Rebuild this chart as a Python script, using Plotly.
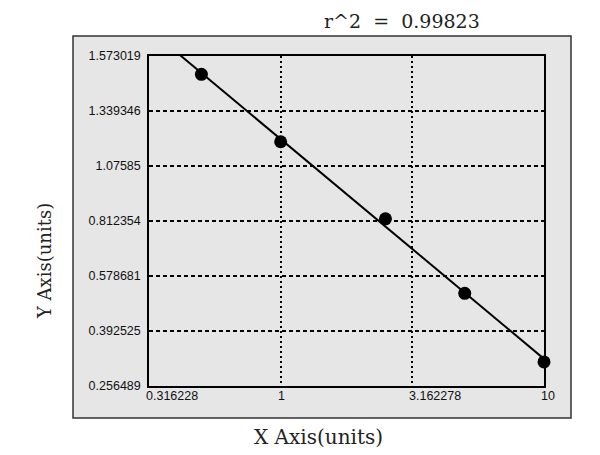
import numpy as np
import plotly.graph_objects as go

# ---- data ----
x_tick_vals = [0.316228, 1, 3.162278, 10]
x_tick_text = ["0.316228", "1", "3.162278", "10"]
y_tick_vals = [0.256489, 0.392525, 0.578681, 0.812354, 1.07585, 1.339346, 1.573019]
y_tick_text = ["0.256489", "0.392525", "0.578681", "0.812354", "1.07585", "1.339346", "1.573019"]

x_data = [0.5, 1, 2.5, 5, 10]
y_data = [1.495, 1.192, 0.823, 0.520, 0.316]

r2_text = "r^2  =  0.99823"
x_title = "X Axis(units)"
y_title = "Y Axis(units)"

# ---- the chart's own (non-linear, evenly spaced tick) y scale ----
idx = np.arange(len(y_tick_vals))
def yscale(v):
    return np.interp(v, y_tick_vals, idx)

u_data = yscale(np.array(y_data))
a, b = np.polyfit(np.log10(x_data), u_data, 1)
x_line = np.array([x_tick_vals[0], x_tick_vals[-1]])
u_line = a * np.log10(x_line) + b

# page body has an 8px margin: work in screen pixels, convert to figure pixels
OFF = 8
W, H = 600 - OFF, 455 - OFF
L, T = 149 - OFF, 56 - OFF
R, B = 600 - 544, 455 - 386
pw, ph = W - L - R, H - T - B
def px(xs):
    return (xs - OFF - L) / pw
def py(ys):
    return (H - B - (ys - OFF)) / ph

grey = "#e6e6e6"
tfont = dict(family="Liberation Sans", size=12.5, color="#111")
fig = go.Figure()
fig.add_trace(go.Scatter(x=x_line, y=u_line, mode="lines",
                         line=dict(color="black", width=2), hoverinfo="skip"))
fig.add_trace(go.Scatter(x=x_data, y=u_data, mode="markers", cliponaxis=False,
                         marker=dict(color="black", size=13)))

fig.update_layout(
    width=W, height=H, showlegend=False,
    margin=dict(l=L, r=R, t=T, b=B, pad=0),
    paper_bgcolor="white", plot_bgcolor=grey,
    font=tfont,
)
fig.update_xaxes(type="log", range=[np.log10(x_tick_vals[0]), np.log10(x_tick_vals[-1])],
                 tickvals=x_tick_vals, showticklabels=False,
                 showgrid=True, gridcolor="black", gridwidth=1.5, griddash="2px,3px",
                 showline=True, mirror=True, linecolor="black", linewidth=1.5,
                 zeroline=False, ticks="")
fig.update_yaxes(range=[0, len(y_tick_vals) - 1], tickvals=idx, ticktext=y_tick_text,
                 showgrid=True, gridcolor="black", gridwidth=1.5, griddash="4px,3px",
                 showline=True, mirror=True, linecolor="black", linewidth=1.5,
                 zeroline=False, ticks="", ticklabelstandoff=4, tickfont=tfont)

# grey panel behind the plot
fig.add_shape(type="rect", xref="paper", yref="paper", layer="below",
              x0=px(73), x1=px(571), y0=py(418), y1=py(36),
              fillcolor=grey, line=dict(color="#333", width=1.5))

# x tick labels (left-aligned at each tick)
for xv, xt in zip(x_tick_vals, x_tick_text):
    fig.add_annotation(x=np.log10(xv), xref="x", y=0, yref="paper", text=xt,
                       showarrow=False, xanchor="left", yanchor="top", xshift=-5, yshift=-1,
                       font=tfont)

fig.add_annotation(x=px(322), y=py(8), xref="paper", yref="paper", text=r2_text,
                   showarrow=False, xanchor="left", yanchor="top",
                   font=dict(family="DejaVu Serif", size=19, color="#222"))
fig.add_annotation(x=px(318), y=py(437), xref="paper", yref="paper", text=x_title,
                   showarrow=False, xanchor="center", yanchor="middle",
                   font=dict(family="DejaVu Serif", size=20, color="#222"))
fig.add_annotation(x=px(44), y=py(261), xref="paper", yref="paper", text=y_title,
                   showarrow=False, xanchor="center", yanchor="middle", textangle=-90,
                   font=dict(family="DejaVu Serif", size=18, color="#222"))

fig.write_html("out.html")
